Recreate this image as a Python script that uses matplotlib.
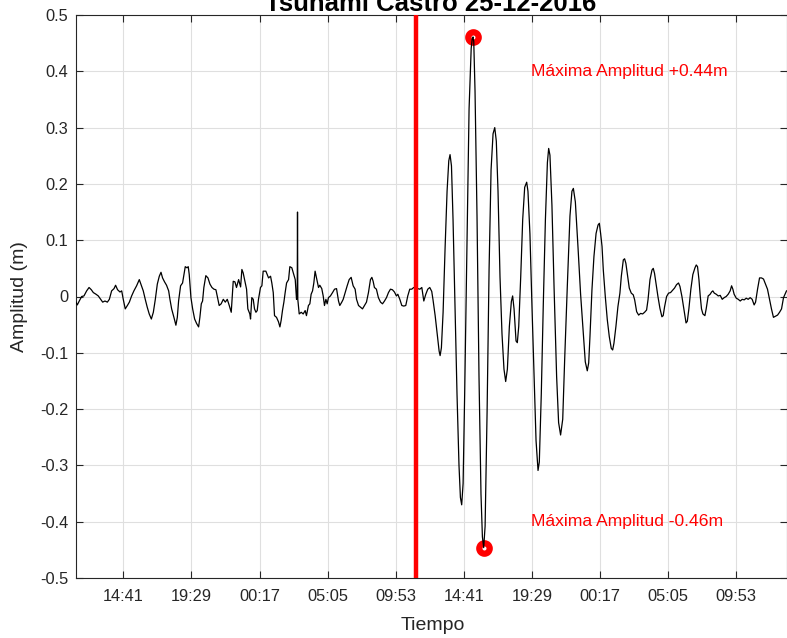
import matplotlib
matplotlib.use("Agg")
import matplotlib.pyplot as plt
import numpy as np

plt.rcParams['font.family'] = ['Liberation Sans', 'DejaVu Sans']

# ---- data (time in hours since start of record, amplitude in m) ----
time_h = [
    0.00, 0.09, 0.23, 0.40, 0.56, 0.75, 0.92, 1.08, 1.22, 1.41, 1.57, 1.74, 1.88, 2.04, 2.21, 2.35,
    2.51, 2.68, 2.79, 2.93, 3.10, 3.22, 3.33, 3.47, 3.62, 3.76, 3.92, 4.08, 4.27, 4.46, 4.60, 4.74,
    4.88, 5.02, 5.16, 5.31, 5.45, 5.59, 5.73, 5.87, 5.99, 6.10, 6.24, 6.38, 6.53, 6.62, 6.74, 6.90,
    7.04, 7.14, 7.23, 7.37, 7.51, 7.61, 7.70, 7.82, 7.91, 7.98, 8.10, 8.22, 8.36, 8.50, 8.64, 8.73,
    8.83, 8.92, 9.01, 9.15, 9.30, 9.44, 9.58, 9.72, 9.86, 10.00, 10.09, 10.23, 10.38, 10.52, 10.66,
    10.80, 10.94, 11.08, 11.20, 11.31, 11.46, 11.60, 11.69, 11.78, 11.88, 12.02, 12.11, 12.25,
    12.30, 12.39, 12.49, 12.58, 12.68, 12.77, 12.86, 13.00, 13.10, 13.19, 13.38, 13.57, 13.71, 13.80,
    13.90, 13.99, 14.13, 14.27, 14.37, 14.46, 14.55, 14.65, 14.74, 14.84, 14.98, 15.07, 15.21, 15.31,
    15.45, 15.54, 15.59, 15.61, 15.63, 15.73, 15.87, 16.01, 16.15, 16.24, 16.38, 16.48, 16.57, 16.67,
    16.76, 16.85, 16.95, 17.09, 17.18, 17.32, 17.42, 17.51, 17.61, 17.70, 17.79, 17.93, 18.08, 18.22,
    18.36, 18.50, 18.59, 18.73, 18.83, 18.97, 19.11, 19.25, 19.39, 19.53, 19.67, 19.77, 19.91, 20.05,
    20.19, 20.33, 20.47, 20.61, 20.75, 20.85, 20.94, 21.03, 21.17, 21.31, 21.46, 21.60, 21.74, 21.88,
    22.02, 22.16, 22.30, 22.44, 22.58, 22.68, 22.82, 22.96, 23.10, 23.24, 23.38, 23.52, 23.66, 23.80,
    24.23, 24.37, 24.51, 24.65, 24.79, 24.93,
    25.07, 25.16, 25.31, 25.45, 25.59, 25.66, 25.75, 25.87, 26.01, 26.15, 26.27, 26.36, 26.46, 26.57,
    26.71, 26.85, 26.99, 27.09, 27.18, 27.28, 27.39, 27.56, 27.70, 27.85, 27.93, 27.98, 28.03, 28.12,
    28.26, 28.40, 28.54, 28.64, 28.73, 28.83, 28.97, 29.11, 29.25, 29.39, 29.51,
    29.62, 29.74, 29.88, 30.02, 30.16, 30.28, 30.40, 30.54, 30.68, 30.77, 30.87, 31.01, 31.10, 31.20,
    31.34, 31.48, 31.62, 31.76, 31.85, 31.99, 32.13, 32.28, 32.42, 32.56, 32.65, 32.79, 32.93, 33.08,
    33.22, 33.31, 33.40, 33.54, 33.69, 33.87, 34.01, 34.15, 34.30, 34.44, 34.62, 34.81, 34.95, 35.05,
    35.19, 35.38, 35.56, 35.75, 35.89, 36.03,
    36.13, 36.22, 36.36, 36.50, 36.65, 36.79, 36.88, 36.97, 37.07, 37.16, 37.30, 37.44, 37.58, 37.72,
    37.82, 37.91, 38.05, 38.19, 38.33, 38.43, 38.57, 38.66, 38.75, 38.85, 38.99, 39.13, 39.27, 39.37,
    39.51, 39.65, 39.79, 39.93, 40.07, 40.21, 40.31, 40.45, 40.59, 40.68, 40.77, 40.87, 41.01, 41.15,
    41.29, 41.38, 41.48, 41.62, 41.76, 41.90, 42.04, 42.18, 42.32, 42.46, 42.56, 42.70, 42.85, 42.99,
    43.08, 43.19, 43.33, 43.47, 43.62, 43.71, 43.80, 43.90, 43.99, 44.08, 44.18, 44.32, 44.41, 44.55,
    44.69, 44.79, 44.88, 44.98, 45.12, 45.26, 45.40, 45.54, 45.68, 45.82, 45.96, 46.10, 46.20, 46.29,
    46.38, 46.53, 46.67, 46.81, 46.95, 47.09, 47.23, 47.37, 47.51, 47.65, 47.79, 47.89, 48.03, 48.17,
    48.31, 48.45, 48.59, 48.73, 48.87, 49.01, 49.15, 49.30, 49.44, 49.58, 49.72, 49.86, 50.00, 50.07,
]

amplitude_m = [
    -0.010, -0.015, -0.008, 0.000, 0.001, 0.010, 0.016, 0.012, 0.007, 0.004, 0.001, -0.005, -0.010, -0.008, -0.010, -0.005,
    0.010, 0.014, 0.020, 0.012, 0.008, 0.010, -0.005, -0.022, -0.016, -0.010, 0.001, 0.010, 0.019, 0.030, 0.020, 0.010,
    -0.005, -0.019, -0.031, -0.040, -0.028, -0.005, 0.022, 0.036, 0.043, 0.033, 0.026, 0.020, 0.010, -0.005, -0.022, -0.037,
    -0.051, -0.037, -0.008, 0.019, 0.024, 0.039, 0.053, 0.051, 0.053, 0.039, -0.002, -0.022, -0.040, -0.048, -0.054, -0.037,
    -0.013, -0.008, 0.016, 0.037, 0.033, 0.022, 0.016, 0.013, 0.012, -0.005, -0.016, -0.013, -0.005, -0.010, -0.005,
    -0.016, -0.028, 0.027, 0.026, 0.016, 0.030, 0.017, 0.048, 0.042, 0.030, 0.013, -0.022, -0.031,
    -0.040, -0.002, -0.005, -0.022, -0.028, -0.025, -0.005, 0.016, 0.019, 0.045, 0.045, 0.033, 0.036, 0.024,
    0.007, -0.034, -0.037, -0.045, -0.054, -0.042, -0.025, -0.010, 0.007, 0.024, 0.030, 0.053, 0.051, 0.042,
    0.030, -0.005, 0.001, 0.150, -0.005, -0.031, -0.028, -0.031, -0.025, -0.034, -0.016, -0.013, 0.004, 0.010,
    0.024, 0.045, 0.033, 0.016, 0.020, 0.014, 0.001, -0.016, -0.005, -0.013, -0.002, 0.001, 0.007, 0.013,
    0.014, -0.008, -0.016, -0.010, -0.005, 0.007, 0.019, 0.030, 0.034, 0.019, 0.013, -0.005, -0.016, -0.019,
    -0.022, -0.016, -0.010, 0.007, 0.030, 0.034, 0.027, 0.016, 0.013, -0.002, -0.010, -0.013, -0.008, -0.002,
    0.007, 0.013, 0.012, 0.008, 0.001, 0.004, -0.005, -0.016, -0.017, -0.016, 0.001, 0.013, 0.013, 0.016,
    0.013, 0.016, -0.008, 0.004, 0.013, 0.016,
    0.009, -0.006, -0.034, -0.066, -0.097, -0.105, -0.091, -0.028, 0.086, 0.187, 0.241, 0.252, 0.232, 0.137,
    -0.015, -0.173, -0.300, -0.357, -0.370, -0.332, -0.173, 0.111, 0.333, 0.441, 0.459, 0.461, 0.453, 0.365,
    0.143, -0.142, -0.351, -0.427, -0.446, -0.408, -0.205, 0.048, 0.225, 0.289, 0.300,
    0.276, 0.187, 0.035, -0.066, -0.129, -0.151, -0.129, -0.053, -0.009, 0.001, -0.022, -0.079, -0.082, -0.053,
    0.035, 0.137, 0.194, 0.203, 0.187, 0.111, -0.015, -0.142, -0.256, -0.309, -0.294, -0.173, -0.015, 0.137,
    0.238, 0.263, 0.251, 0.162, 0.016, -0.142, -0.224, -0.246, -0.218, -0.110, 0.016, 0.143, 0.187, 0.192,
    0.168, 0.086, 0.004, -0.066, -0.116, -0.132,
    -0.118, -0.071, 0.012, 0.071, 0.112, 0.127, 0.130, 0.112, 0.089, 0.047, 0.000, -0.041, -0.071, -0.092,
    -0.095, -0.083, -0.053, -0.018, 0.006, 0.036, 0.065, 0.067, 0.059, 0.041, 0.015, 0.006, 0.003, -0.006,
    -0.027, -0.033, -0.030, -0.031, -0.028, -0.024, -0.006, 0.030, 0.047, 0.050, 0.041, 0.024, 0.000, -0.021,
    -0.036, -0.034, -0.018, 0.000, 0.006, 0.007, 0.011, 0.015, 0.021, 0.024, 0.018, 0.000, -0.024, -0.047,
    -0.044, -0.022, 0.013, 0.039, 0.051, 0.056, 0.053, 0.030, 0.001, -0.022, -0.031, -0.034, -0.022, 0.001,
    0.004, 0.008, 0.010, 0.006, 0.004, 0.001, 0.002, -0.005, -0.002, 0.000, 0.004, 0.010, 0.019, 0.013,
    0.004, -0.003, -0.005, -0.008, -0.005, -0.006, -0.003, -0.005, -0.002, -0.005, -0.015, -0.010, 0.013, 0.033,
    0.033, 0.031, 0.022, 0.013, -0.005, -0.022, -0.037, -0.035, -0.033, -0.028, -0.022, -0.002, 0.006, 0.010,
]

event_time_h = 23.95          # earthquake origin time (red vertical line)
record_end_h = 50.07
tick_hours = [3.333, 8.133, 12.933, 17.733, 22.533, 27.333, 32.133, 36.933, 41.733, 46.533]
tick_labels = ['14:41', '19:29', '00:17', '05:05', '09:53',
               '14:41', '19:29', '00:17', '05:05', '09:53']
y_ticks = [-0.5, -0.4, -0.3, -0.2, -0.1, 0, 0.1, 0.2, 0.3, 0.4, 0.5]
y_tick_labels = ['-0.5', '-0.4', '-0.3', '-0.2', '-0.1', '0', '0.1', '0.2', '0.3', '0.4', '0.5']
label_max = 'Máxima Amplitud +0.44m'
label_min = 'Máxima Amplitud -0.46m'
annot_x_h = 32.05

t = np.array(time_h)
a = np.array(amplitude_m)

fig = plt.figure(figsize=(7.87, 6.38), dpi=100)
ax = fig.add_axes([76 / 787, 1 - 578 / 638, (786.5 - 76) / 787, 563 / 638])

axis_col = '#262626'
ax.grid(True, color='#dfdfdf', linewidth=0.8)
ax.set_axisbelow(True)

ax.plot(t, a, color='black', linewidth=0.9, zorder=3)
ax.axvline(event_time_h, color='#ff0000', linewidth=3.2, zorder=4)

imax = int(np.argmax(a))
imin = int(np.argmin(a))
ax.plot([t[imax], t[imin]], [a[imax], a[imin]], linestyle='none', marker='o',
        markersize=7.5, markeredgewidth=4.5, markeredgecolor='#ff0000',
        markerfacecolor='none', zorder=2)

ax.text(annot_x_h, 0.4, label_max, color='#ff0000', fontsize=12.6, ha='left', va='center')
ax.text(annot_x_h, -0.4, label_min, color='#ff0000', fontsize=12.6, ha='left', va='center')

ax.set_xlim(0, record_end_h)
ax.set_ylim(-0.5, 0.5)
ax.set_xticks(tick_hours)
ax.set_xticklabels(tick_labels)
ax.set_yticks(y_ticks)
ax.set_yticklabels(y_tick_labels)

ax.tick_params(axis='both', direction='in', length=5, width=0.8, colors=axis_col,
               labelsize=11.8, top=True, right=True)
ax.tick_params(axis='x', pad=8)
ax.tick_params(axis='y', pad=5.5)
for s in ax.spines.values():
    s.set_color(axis_col)
    s.set_linewidth(0.8)

fig.text(20 / 787, 1 - 297 / 638, 'Amplitud (m)', rotation=90, ha='center', va='center',
         fontsize=14.0, color=axis_col)
fig.text(433 / 787, 1 - 625 / 638, 'Tiempo', ha='center', va='center',
         fontsize=14.0, color=axis_col)
fig.text(431 / 787, 1 - 11 / 638, 'Tsunami Castro 25-12-2016', ha='center', va='baseline',
         fontsize=18.5, fontweight='bold', color='black')

fig.savefig('out.png', dpi=100)
